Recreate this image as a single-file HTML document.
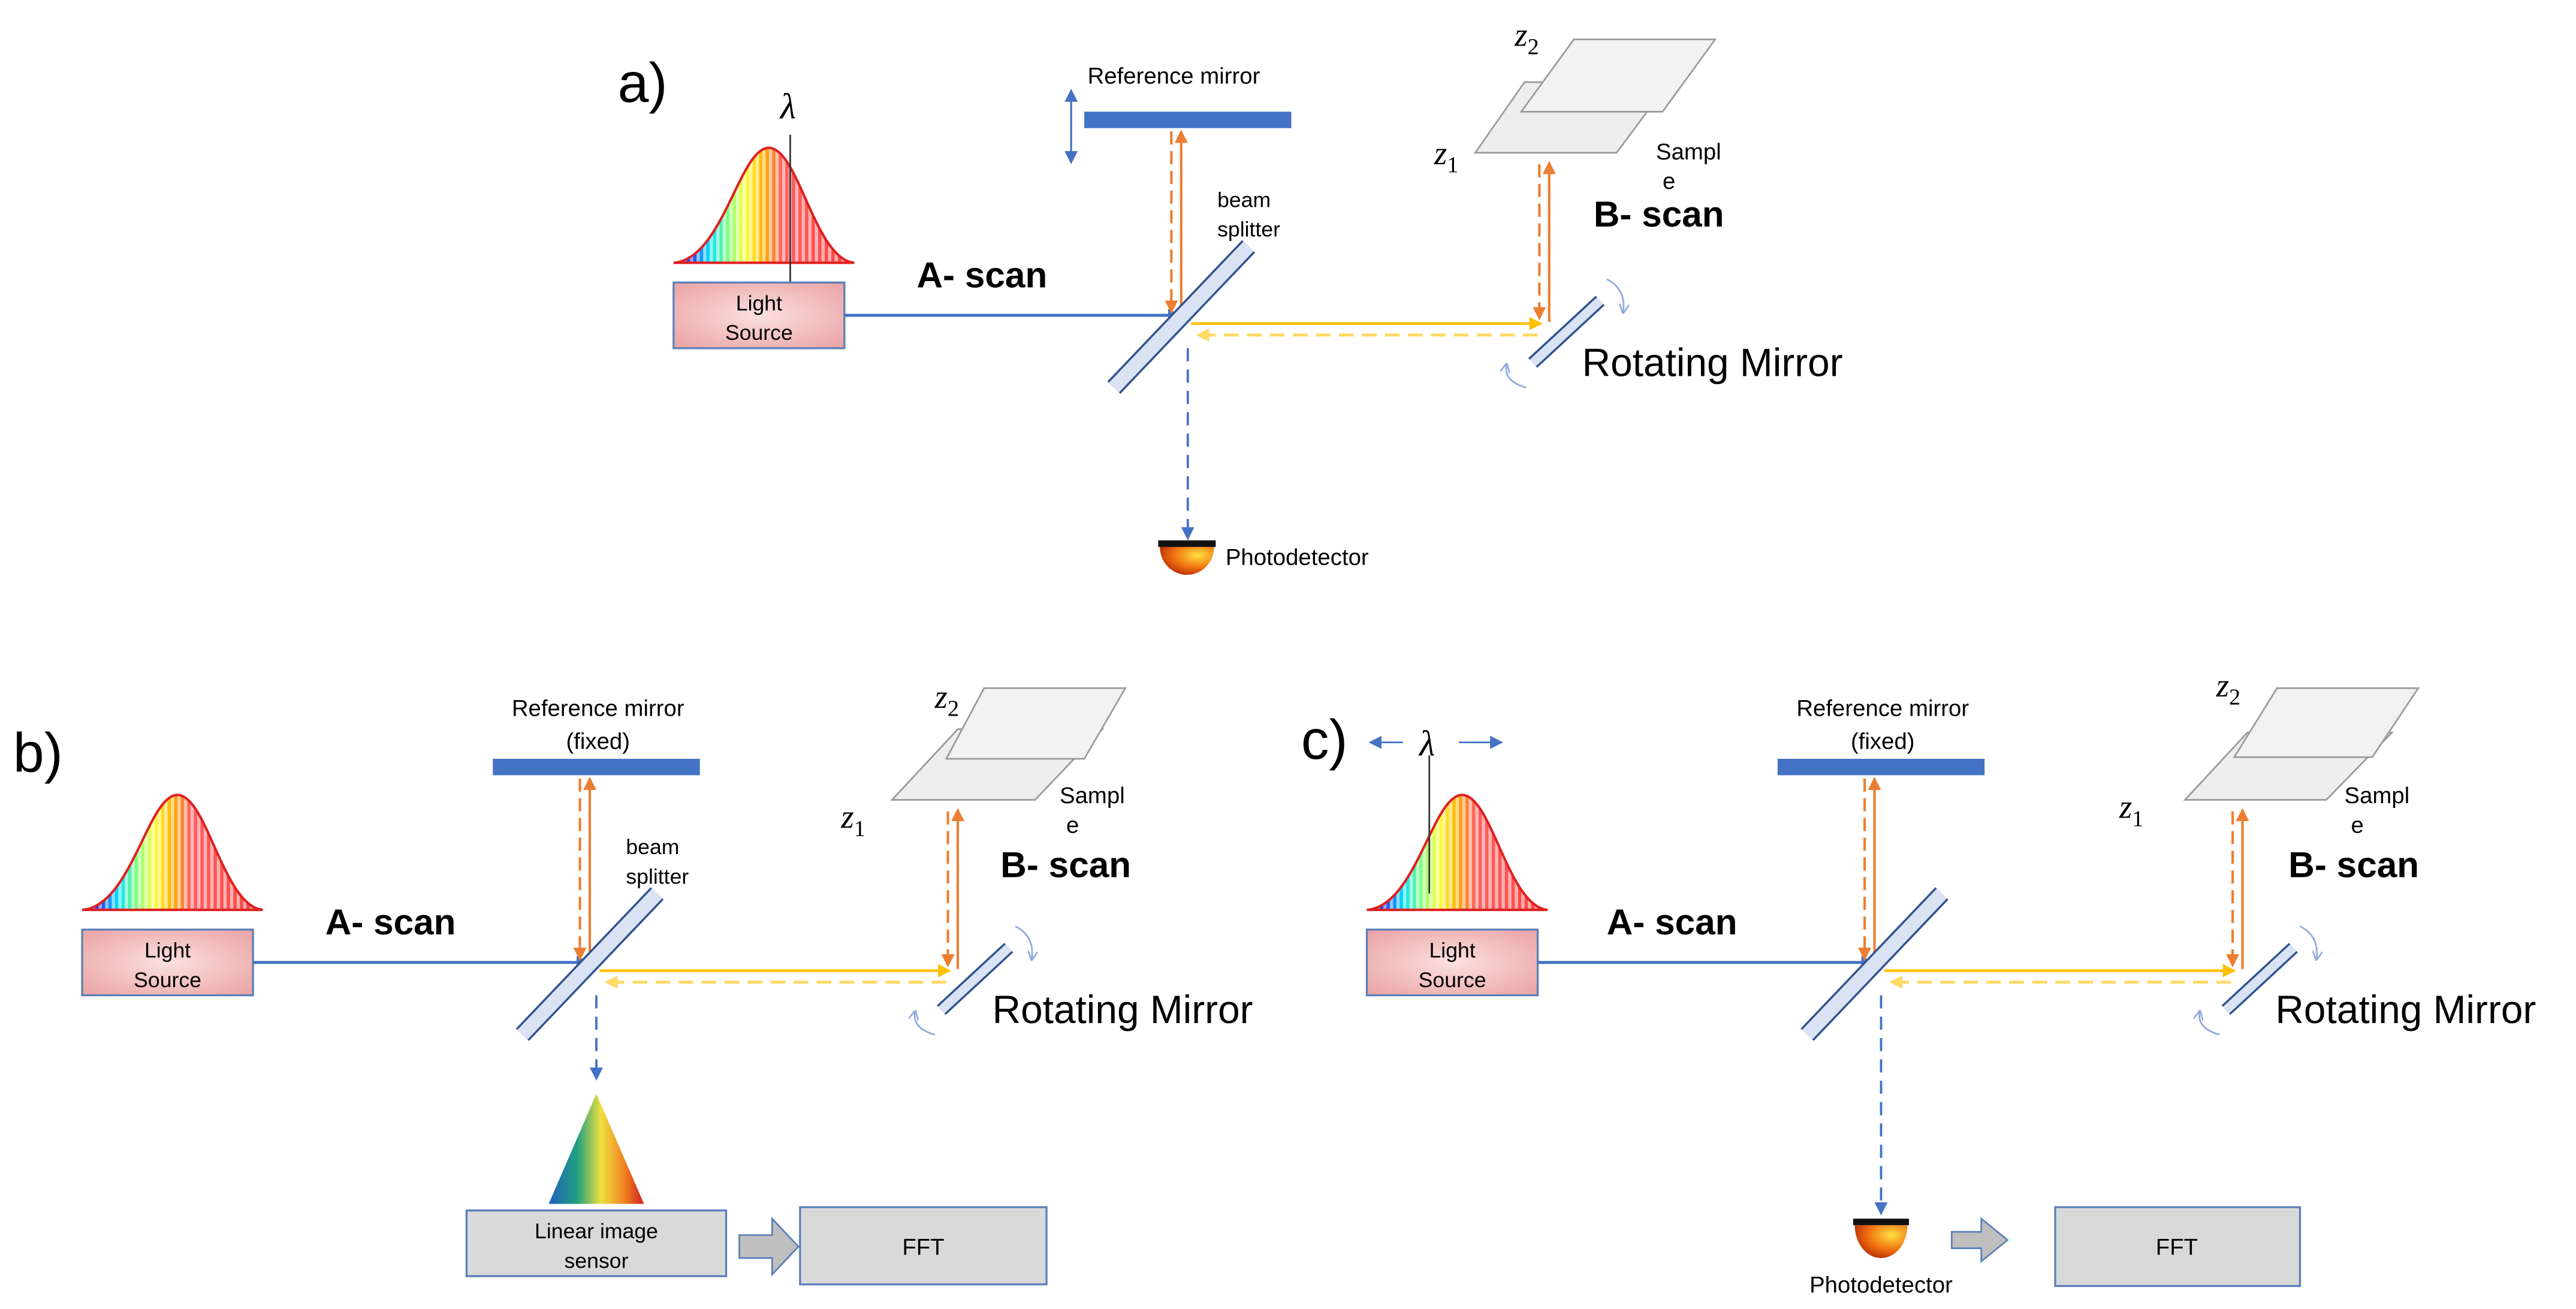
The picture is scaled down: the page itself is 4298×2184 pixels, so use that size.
<!DOCTYPE html>
<html><head><meta charset="utf-8"><style>
html,body{margin:0;padding:0;background:#fff;}
svg{display:block;}
text{font-family:"Liberation Sans",sans-serif;}
.ser{font-family:"Liberation Serif","DejaVu Serif",serif;font-style:italic;}
</style></head><body>
<svg width="4298" height="2184" viewBox="0 0 1568 797" preserveAspectRatio="none" xmlns="http://www.w3.org/2000/svg">
<defs>
<marker id="ab" markerWidth="8" markerHeight="8" refX="7" refY="4" orient="auto" markerUnits="userSpaceOnUse"><path d="M0,0 L8,4 L0,8 z" fill="#4472c4"/></marker>
<marker id="ao" markerWidth="8" markerHeight="8" refX="7" refY="4" orient="auto" markerUnits="userSpaceOnUse"><path d="M0,0 L8,4 L0,8 z" fill="#ed7d31"/></marker>
<marker id="ay" markerWidth="8" markerHeight="8" refX="7" refY="4" orient="auto" markerUnits="userSpaceOnUse"><path d="M0,0 L8,4 L0,8 z" fill="#ffc000"/></marker>
<marker id="ay2" markerWidth="8" markerHeight="8" refX="7" refY="4" orient="auto" markerUnits="userSpaceOnUse"><path d="M0,0 L8,4 L0,8 z" fill="#ffd966"/></marker>
<marker id="at" markerWidth="6" markerHeight="6" refX="5" refY="3" orient="auto" markerUnits="userSpaceOnUse"><path d="M0,0 L6,3 L0,6" fill="none" stroke="#8faadc" stroke-width="1"/></marker>
<linearGradient id="rb" x1="0" x2="1" y1="0" y2="0">
<stop offset="0" stop-color="#6020a0"/><stop offset="0.1" stop-color="#2040ff"/><stop offset="0.2" stop-color="#00e0ff"/><stop offset="0.3" stop-color="#80ff80"/><stop offset="0.4" stop-color="#ffff40"/><stop offset="0.5" stop-color="#ffb000"/><stop offset="0.6" stop-color="#ff6060"/><stop offset="1" stop-color="#ff4040"/></linearGradient>
<pattern id="vl" width="4" height="10" patternUnits="userSpaceOnUse"><rect x="0" y="0" width="2" height="10" fill="#fff" opacity="0.55"/></pattern>
<radialGradient id="pink" cx="0.5" cy="0.5" r="0.7"><stop offset="0" stop-color="#fbe0e0"/><stop offset="1" stop-color="#eaa2a2"/></radialGradient>
<radialGradient id="pd" cx="0.7" cy="0.3" r="0.9"><stop offset="0" stop-color="#ffe040"/><stop offset="0.5" stop-color="#f07010"/><stop offset="1" stop-color="#a01000"/></radialGradient>
<linearGradient id="pr" x1="0" x2="1"><stop offset="0" stop-color="#2060c0"/><stop offset="0.3" stop-color="#20a080"/><stop offset="0.55" stop-color="#f0e040"/><stop offset="0.8" stop-color="#f08020"/><stop offset="1" stop-color="#d02020"/></linearGradient>
</defs>

<!-- ============ PANEL A ============ -->
<text x="376" y="62" font-size="34">a)</text>
<path d="M410,160 C440,158 450,90 468,90 C486,90 496,158 520,160 Z" fill="url(#rb)"/>
<path d="M410,160 C440,158 450,90 468,90 C486,90 496,158 520,160 Z" fill="url(#vl)" stroke="#e02020" stroke-width="1.5"/>
<line x1="481" y1="82" x2="481" y2="172" stroke="#333" stroke-width="1"/>
<text x="475" y="72" font-size="22" class="ser">λ</text>
<rect x="410" y="172" width="104" height="40" fill="url(#pink)" stroke="#5b7fb8" stroke-width="1.2"/>
<text x="462" y="189" font-size="13" text-anchor="middle">Light</text>
<text x="462" y="207" font-size="13" text-anchor="middle">Source</text>
<line x1="514" y1="192" x2="718" y2="192" stroke="#4472c4" stroke-width="1.8" marker-end="url(#ab)"/>
<text x="558" y="175" font-size="22" font-weight="bold">A- scan</text>
<text x="662" y="51" font-size="14">Reference mirror</text>
<line x1="652" y1="58" x2="652" y2="96" stroke="#4472c4" stroke-width="1.2"/>
<path d="M648,62 L652,54 L656,62 z M648,92 L652,100 L656,92 z" fill="#4472c4"/>
<rect x="660" y="68" width="126" height="10" fill="#4472c4"/>
<line x1="713" y1="80" x2="713" y2="190" stroke="#ed7d31" stroke-width="1.5" stroke-dasharray="8,4" marker-end="url(#ao)"/>
<line x1="719" y1="192" x2="719" y2="80" stroke="#ed7d31" stroke-width="1.5" marker-end="url(#ao)"/>
<text x="741" y="126" font-size="13">beam</text>
<text x="741" y="144" font-size="13">splitter</text>
<line x1="678" y1="236" x2="760" y2="150" stroke="#2f528f" stroke-width="11"/>
<line x1="678" y1="236" x2="760" y2="150" stroke="#dae3f3" stroke-width="8.5"/>
<line x1="725" y1="197" x2="938" y2="197" stroke="#ffc000" stroke-width="1.6" marker-end="url(#ay)"/>
<line x1="936" y1="204" x2="729" y2="204" stroke="#ffd966" stroke-width="1.8" stroke-dasharray="9,5" marker-end="url(#ay2)"/>
<line x1="723" y1="212" x2="723" y2="328" stroke="#4472c4" stroke-width="1.4" stroke-dasharray="8,5" marker-end="url(#ab)"/>
<rect x="705" y="329" width="35" height="4" fill="#111"/>
<path d="M706,333 A16.5,17 0 0 0 739,333 Z" fill="url(#pd)"/>
<text x="746" y="344" font-size="14">Photodetector</text>
<polygon points="928,50 1016,50 984,93 898,93" fill="#eeeeee" stroke="#9a9a9a" stroke-width="1"/>
<polygon points="958,24 1044,24 1012,68 926,68" fill="#f2f2f2" stroke="#9a9a9a" stroke-width="1"/>
<text x="922" y="28" font-size="20" class="ser">z<tspan font-size="14" dy="5" font-style="normal">2</tspan></text>
<text x="873" y="100" font-size="20" class="ser">z<tspan font-size="14" dy="5" font-style="normal">1</tspan></text>
<text x="1008" y="97" font-size="14">Sampl</text>
<text x="1012" y="115" font-size="14">e</text>
<text x="970" y="138" font-size="22" font-weight="bold">B- scan</text>
<line x1="937" y1="100" x2="937" y2="194" stroke="#ed7d31" stroke-width="1.5" stroke-dasharray="8,4" marker-end="url(#ao)"/>
<line x1="943" y1="196" x2="943" y2="99" stroke="#ed7d31" stroke-width="1.5" marker-end="url(#ao)"/>
<line x1="933" y1="221" x2="974" y2="183" stroke="#2f528f" stroke-width="8"/>
<line x1="933" y1="221" x2="974" y2="183" stroke="#dae3f3" stroke-width="5.5"/>
<path d="M978,170 Q990,176 988,190" fill="none" stroke="#8faadc" stroke-width="1" marker-end="url(#at)"/>
<path d="M929,236 Q915,232 917,222" fill="none" stroke="#8faadc" stroke-width="1" marker-end="url(#at)"/>
<text x="963" y="229" font-size="24">Rotating Mirror</text>

<!-- ============ PANEL B ============ -->
<text x="8" y="470" font-size="34">b)</text>
<g transform="translate(-360,394)">
<path d="M410,160 C440,158 450,90 468,90 C486,90 496,158 520,160 Z" fill="url(#rb)"/>
<path d="M410,160 C440,158 450,90 468,90 C486,90 496,158 520,160 Z" fill="url(#vl)" stroke="#e02020" stroke-width="1.5"/>
<rect x="410" y="172" width="104" height="40" fill="url(#pink)" stroke="#5b7fb8" stroke-width="1.2"/>
<text x="462" y="189" font-size="13" text-anchor="middle">Light</text>
<text x="462" y="207" font-size="13" text-anchor="middle">Source</text>
<line x1="514" y1="192" x2="718" y2="192" stroke="#4472c4" stroke-width="1.8" marker-end="url(#ab)"/>
<text x="558" y="175" font-size="22" font-weight="bold">A- scan</text>
<text x="724" y="42" font-size="14" text-anchor="middle">Reference mirror</text>
<text x="724" y="62" font-size="14" text-anchor="middle">(fixed)</text>
<rect x="660" y="68" width="126" height="10" fill="#4472c4"/>
<line x1="713" y1="80" x2="713" y2="190" stroke="#ed7d31" stroke-width="1.5" stroke-dasharray="8,4" marker-end="url(#ao)"/>
<line x1="719" y1="192" x2="719" y2="80" stroke="#ed7d31" stroke-width="1.5" marker-end="url(#ao)"/>
<text x="741" y="126" font-size="13">beam</text>
<text x="741" y="144" font-size="13">splitter</text>
<line x1="678" y1="236" x2="760" y2="150" stroke="#2f528f" stroke-width="11"/>
<line x1="678" y1="236" x2="760" y2="150" stroke="#dae3f3" stroke-width="8.5"/>
<line x1="725" y1="197" x2="938" y2="197" stroke="#ffc000" stroke-width="1.6" marker-end="url(#ay)"/>
<line x1="936" y1="204" x2="729" y2="204" stroke="#ffd966" stroke-width="1.8" stroke-dasharray="9,5" marker-end="url(#ay2)"/>
<line x1="723" y1="212" x2="723" y2="263" stroke="#4472c4" stroke-width="1.4" stroke-dasharray="8,5" marker-end="url(#ab)"/>
<polygon points="723,272 694,339 752,339" fill="url(#pr)"/>
<rect x="644" y="343" width="158" height="40" fill="#d9d9d9" stroke="#5b7fb8" stroke-width="1.2"/>
<text x="723" y="360" font-size="13" text-anchor="middle">Linear image</text>
<text x="723" y="378" font-size="13" text-anchor="middle">sensor</text>
<polygon points="810,358 830,358 830,348 846,365 830,382 830,372 810,372" fill="#bfbfbf" stroke="#5b7fb8" stroke-width="1"/>
<rect x="847" y="341" width="150" height="47" fill="#d9d9d9" stroke="#5b7fb8" stroke-width="1.2"/>
<text x="922" y="370" font-size="14" text-anchor="middle">FFT</text>
<polygon points="943,50 1031,50 990,93 903,93" fill="#eeeeee" stroke="#9a9a9a" stroke-width="1"/>
<polygon points="959,25 1045,25 1020,68 936,68" fill="#f2f2f2" stroke="#9a9a9a" stroke-width="1"/>
<text x="929" y="37" font-size="20" class="ser">z<tspan font-size="14" dy="5" font-style="normal">2</tspan></text>
<text x="872" y="110" font-size="20" class="ser">z<tspan font-size="14" dy="5" font-style="normal">1</tspan></text>
<text x="1005" y="95" font-size="14">Sampl</text>
<text x="1009" y="113" font-size="14">e</text>
<text x="969" y="140" font-size="22" font-weight="bold">B- scan</text>
<line x1="937" y1="100" x2="937" y2="194" stroke="#ed7d31" stroke-width="1.5" stroke-dasharray="8,4" marker-end="url(#ao)"/>
<line x1="943" y1="196" x2="943" y2="99" stroke="#ed7d31" stroke-width="1.5" marker-end="url(#ao)"/>
<line x1="933" y1="221" x2="974" y2="183" stroke="#2f528f" stroke-width="8"/>
<line x1="933" y1="221" x2="974" y2="183" stroke="#dae3f3" stroke-width="5.5"/>
<path d="M978,170 Q990,176 988,190" fill="none" stroke="#8faadc" stroke-width="1" marker-end="url(#at)"/>
<path d="M929,236 Q915,232 917,222" fill="none" stroke="#8faadc" stroke-width="1" marker-end="url(#at)"/>
<text x="964" y="229" font-size="24">Rotating Mirror</text>
</g>

<!-- ============ PANEL C ============ -->
<text x="792" y="462" font-size="34">c)</text>
<g transform="translate(422,394)">
<path d="M410,160 C440,158 450,90 468,90 C486,90 496,158 520,160 Z" fill="url(#rb)"/>
<path d="M410,160 C440,158 450,90 468,90 C486,90 496,158 520,160 Z" fill="url(#vl)" stroke="#e02020" stroke-width="1.5"/>
<line x1="448" y1="66" x2="448" y2="150" stroke="#333" stroke-width="1"/>
<text x="442" y="66" font-size="22" class="ser">λ</text>
<line x1="432" y1="58" x2="412" y2="58" stroke="#4472c4" stroke-width="1" marker-end="url(#ab)"/>
<line x1="466" y1="58" x2="492" y2="58" stroke="#4472c4" stroke-width="1" marker-end="url(#ab)"/>
<rect x="410" y="172" width="104" height="40" fill="url(#pink)" stroke="#5b7fb8" stroke-width="1.2"/>
<text x="462" y="189" font-size="13" text-anchor="middle">Light</text>
<text x="462" y="207" font-size="13" text-anchor="middle">Source</text>
<line x1="514" y1="192" x2="718" y2="192" stroke="#4472c4" stroke-width="1.8" marker-end="url(#ab)"/>
<text x="556" y="175" font-size="22" font-weight="bold">A- scan</text>
<text x="724" y="42" font-size="14" text-anchor="middle">Reference mirror</text>
<text x="724" y="62" font-size="14" text-anchor="middle">(fixed)</text>
<rect x="660" y="68" width="126" height="10" fill="#4472c4"/>
<line x1="713" y1="80" x2="713" y2="190" stroke="#ed7d31" stroke-width="1.5" stroke-dasharray="8,4" marker-end="url(#ao)"/>
<line x1="719" y1="192" x2="719" y2="80" stroke="#ed7d31" stroke-width="1.5" marker-end="url(#ao)"/>
<line x1="678" y1="236" x2="760" y2="150" stroke="#2f528f" stroke-width="11"/>
<line x1="678" y1="236" x2="760" y2="150" stroke="#dae3f3" stroke-width="8.5"/>
<line x1="725" y1="197" x2="938" y2="197" stroke="#ffc000" stroke-width="1.6" marker-end="url(#ay)"/>
<line x1="936" y1="204" x2="729" y2="204" stroke="#ffd966" stroke-width="1.8" stroke-dasharray="9,5" marker-end="url(#ay2)"/>
<line x1="723" y1="212" x2="723" y2="345" stroke="#4472c4" stroke-width="1.4" stroke-dasharray="8,5" marker-end="url(#ab)"/>
<rect x="706" y="348" width="34" height="4" fill="#111"/>
<path d="M707,352 A16,20 0 0 0 739,352 Z" fill="url(#pd)"/>
<text x="723" y="393" font-size="14" text-anchor="middle">Photodetector</text>
<polygon points="766,356 784,356 784,348 800,361 784,374 784,366 766,366" fill="#bfbfbf" stroke="#5b7fb8" stroke-width="1"/>
<rect x="829" y="341" width="149" height="48" fill="#d9d9d9" stroke="#5b7fb8" stroke-width="1.2"/>
<text x="903" y="370" font-size="14" text-anchor="middle">FFT</text>
<polygon points="946,52 1034,52 994,93 908,93" fill="#eeeeee" stroke="#9a9a9a" stroke-width="1"/>
<polygon points="964,25 1050,25 1022,67 938,67" fill="#f2f2f2" stroke="#9a9a9a" stroke-width="1"/>
<text x="927" y="30" font-size="20" class="ser">z<tspan font-size="14" dy="5" font-style="normal">2</tspan></text>
<text x="868" y="104" font-size="20" class="ser">z<tspan font-size="14" dy="5" font-style="normal">1</tspan></text>
<text x="1005" y="95" font-size="14">Sampl</text>
<text x="1009" y="113" font-size="14">e</text>
<text x="971" y="140" font-size="22" font-weight="bold">B- scan</text>
<line x1="937" y1="100" x2="937" y2="194" stroke="#ed7d31" stroke-width="1.5" stroke-dasharray="8,4" marker-end="url(#ao)"/>
<line x1="943" y1="196" x2="943" y2="99" stroke="#ed7d31" stroke-width="1.5" marker-end="url(#ao)"/>
<line x1="933" y1="221" x2="974" y2="183" stroke="#2f528f" stroke-width="8"/>
<line x1="933" y1="221" x2="974" y2="183" stroke="#dae3f3" stroke-width="5.5"/>
<path d="M978,170 Q990,176 988,190" fill="none" stroke="#8faadc" stroke-width="1" marker-end="url(#at)"/>
<path d="M929,236 Q915,232 917,222" fill="none" stroke="#8faadc" stroke-width="1" marker-end="url(#at)"/>
<text x="963" y="229" font-size="24">Rotating Mirror</text>
</g>
</svg>
</body></html>
